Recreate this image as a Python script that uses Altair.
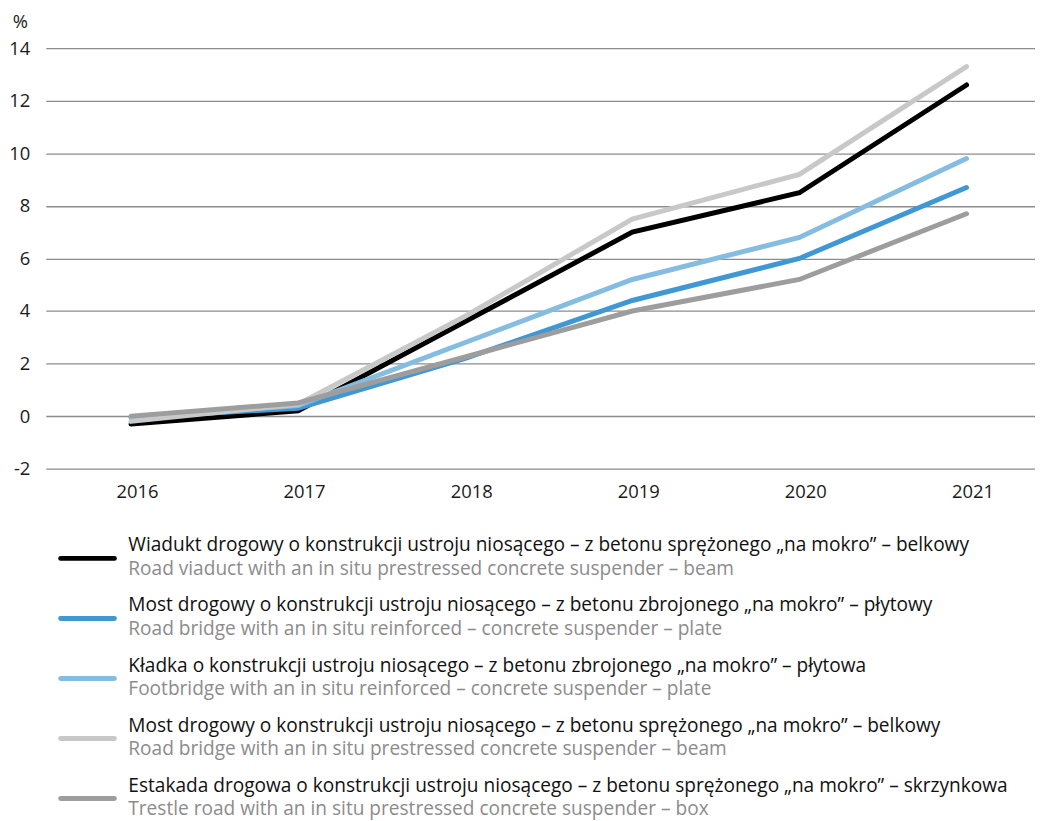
import altair as alt
import pandas as pd

years = [2016, 2017, 2018, 2019, 2020, 2021]

series_pl = [
    "Wiadukt drogowy o konstrukcji ustroju niosącego – z betonu sprężonego „na mokro” – belkowy",
    "Most drogowy o konstrukcji ustroju niosącego – z betonu zbrojonego „na mokro” – płytowy",
    "Kładka o konstrukcji ustroju niosącego – z betonu zbrojonego „na mokro” – płytowa",
    "Most drogowy o konstrukcji ustroju niosącego – z betonu sprężonego „na mokro” – belkowy",
    "Estakada drogowa o konstrukcji ustroju niosącego – z betonu sprężonego „na mokro” – skrzynkowa",
]
series_en = [
    "Road viaduct with an in situ prestressed concrete suspender – beam",
    "Road bridge with an in situ reinforced – concrete suspender – plate",
    "Footbridge with an in situ reinforced – concrete suspender – plate",
    "Road bridge with an in situ prestressed concrete suspender – beam",
    "Trestle road with an in situ prestressed concrete suspender – box",
]
series_keys = ["s1", "s2", "s3", "s4", "s5"]
series_colors = ["#000000", "#3f97d3", "#85bce2", "#c8c8c8", "#9d9d9d"]

values_s1 = [-0.3, 0.2, 3.6, 7.0, 8.5, 12.6]
values_s2 = [-0.05, 0.3, 2.2, 4.4, 6.0, 8.7]
values_s3 = [-0.05, 0.4, 2.8, 5.2, 6.8, 9.8]
values_s4 = [-0.2, 0.45, 3.8, 7.5, 9.2, 13.3]
values_s5 = [0.0, 0.5, 2.25, 4.0, 5.2, 7.7]
all_values = [values_s1, values_s2, values_s3, values_s4, values_s5]

y_ticks = [-2, 0, 2, 4, 6, 8, 10, 12, 14]

rows = []
for k, (key, vals) in enumerate(zip(series_keys, all_values)):
    for yr, v in zip(years, vals):
        rows.append({"year": yr, "value": v, "series": key, "order": k})
df = pd.DataFrame(rows)

leg = pd.DataFrame({"series": series_keys, "pl": series_pl, "en": series_en})

FONT = "Open Sans"
TICK_FS = 18.5
LEG_FS = 19.2
color_scale = alt.Scale(domain=series_keys, range=series_colors)

lines = alt.Chart(df).mark_line(strokeWidth=5, strokeCap="round", strokeJoin="miter").encode(
    x=alt.X("year:Q",
            scale=alt.Scale(domain=[2015.49, 2021.41], nice=False, zero=False),
            axis=alt.Axis(values=years, format="d", title=None, grid=False, domain=False,
                          ticks=False, labelFont=FONT, labelFontSize=TICK_FS, labelColor="#1a1a1a",
                          labelPadding=14, labelOffset=6)),
    y=alt.Y("value:Q",
            scale=alt.Scale(domain=[-2, 14], nice=False, zero=False),
            axis=alt.Axis(values=y_ticks, title="%", titleAngle=0, titleX=-26, titleY=-21,
                          titleAlign="center", titleBaseline="alphabetic", titleFont=FONT,
                          titleFontSize=TICK_FS, titleFontWeight="normal", titleColor="#1a1a1a",
                          grid=True, gridColor="#8c8c8c", gridWidth=1.3, domain=False,
                          ticks=False, labelFont=FONT, labelFontSize=TICK_FS, labelColor="#1a1a1a",
                          labelPadding=16, labelExpr="toString(datum.value)")),
    color=alt.Color("series:N", scale=color_scale, legend=None),
    order=alt.Order("order:Q"),
    detail="series:N",
).properties(width=995, height=423)

ypos = alt.Y("series:N", sort=series_keys, axis=None,
             scale=alt.Scale(type="point", padding=0.5, domain=series_keys))

sym = alt.Chart(leg).mark_rule(strokeWidth=5, strokeCap="round").encode(
    x=alt.value(15), x2=alt.value(69), y=ypos,
    color=alt.Color("series:N", scale=color_scale, legend=None),
)
txt_pl = alt.Chart(leg).mark_text(align="left", baseline="alphabetic", dy=-7, font=FONT,
                                  fontSize=LEG_FS, color="#111111").encode(
    x=alt.value(83), y=ypos, text="pl:N")
txt_en = alt.Chart(leg).mark_text(align="left", baseline="alphabetic", dy=17, font=FONT,
                                  fontSize=LEG_FS, color="#8c8c8c").encode(
    x=alt.value(83), y=ypos, text="en:N")

legend_chart = alt.layer(sym, txt_pl, txt_en).properties(width=995, height=302)

chart = alt.vconcat(lines, legend_chart, spacing=27).properties(
    padding={"left": 0, "top": 2, "right": 0, "bottom": 0}
).configure_view(strokeWidth=0, stroke="transparent")

chart.save("out.html", embed_options={"renderer": "svg", "actions": False})
